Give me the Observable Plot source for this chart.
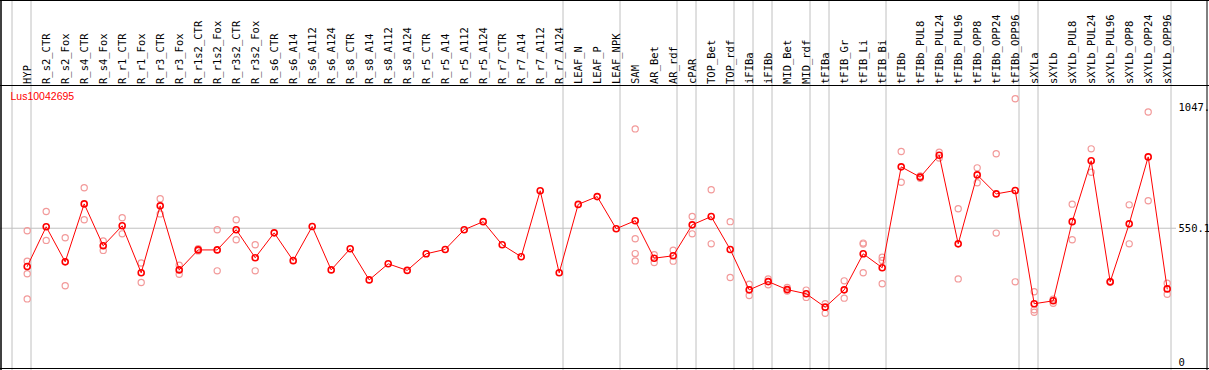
<!DOCTYPE html>
<html><head><meta charset="utf-8">
<script src="https://cdn.jsdelivr.net/npm/d3@7"></script>
<script src="https://cdn.jsdelivr.net/npm/@observablehq/plot@0.6"></script>
<style>html,body{margin:0;padding:0;background:#fff;overflow:hidden}</style>
</head><body><div id="chart"></div>
<script>
const geneId = "Lus10042695";
const samples = ["HYP","R_s2_CTR","R_s2_Fox","R_s4_CTR","R_s4_Fox","R_r1_CTR","R_r1_Fox","R_r3_CTR","R_r3_Fox","R_r1s2_CTR","R_r1s2_Fox","R_r3s2_CTR","R_r3s2_Fox","R_s6_CTR","R_s6_A14","R_s6_A112","R_s6_A124","R_s8_CTR","R_s8_A14","R_s8_A112","R_s8_A124","R_r5_CTR","R_r5_A14","R_r5_A112","R_r5_A124","R_r7_CTR","R_r7_A14","R_r7_A112","R_r7_A124","LEAF_N","LEAF_P","LEAF_NPK","SAM","AR_Bet","AR_rdf","cPAR","TOP_Bet","TOP_rdf","iFIBa","iFIBb","MID_Bet","MID_rdf","tFIBa","tFIB_Gr","tFIB_Li","tFIB_Bi","tFIBb","tFIBb_PUL8","tFIBb_PUL24","tFIBb_PUL96","tFIBb_OPP8","tFIBb_OPP24","tFIBb_OPP96","sXYLa","sXYLb","sXYLb_PUL8","sXYLb_PUL24","sXYLb_PUL96","sXYLb_OPP8","sXYLb_OPP24","sXYLb_OPP96"];
const means = [393,556,412,650,478,560,367,642,379,461,461,544,429,531,417,557,379,466,338,404,377,445,463,544,577,482,433,704,367,648,680,548,581,427,437,564,598,463,297,331,298,281,226,297,445,388,802,760,850,486,769,691,705,240,252,577,827,330,568,843,301];
const replicates = [
  [540,415,363,260],[619,500],[511,314],[716,585],[498,459],[593,527],[407,327],[671,609],[398,361],[466,457],
  [544,375],[585,503],[482,375],[],[],[],[],[],[],[],
  [],[],[],[],[],[],[],[],[],[],
  [],[],[958,507,446,416],[441,409],[460,415],[598,527],[708,486],[577,348],[320,274],[342,318],
  [307,292],[296,266],[240,201],[334,263],[489,485,367],[431,418,322],[865,739],[765,755],[862,838],[630,342],
  [798,737],[856,530],[1082,330],[289,215,205],[259,242],[649,503],[876,780],[332,328],[646,486],[1027,663],
  [324,279]
];
const groupEdges = [0,1,29,32,35,36,38,39,40,42,43,46,53,54,61];
const yTicks = [0, 550.1, 1047];
const yTickLabels = ["0", "550.1", "1047."];

const meanData = samples.map((s, i) => ({i, sample: s, value: means[i]}));
const repData = samples.flatMap((s, i) => replicates[i].map(v => ({i, value: v})));

const chart = Plot.plot({
  width: 1209, height: 370, margin: 0,
  x: {type: "linear", domain: [0, 61], range: [11.5, 1170.5], axis: null},
  y: {type: "linear", domain: [0, 1047], range: [361.7, 106.7], axis: null},
  style: {background: "#fff", fontFamily: "'DejaVu Sans Mono', monospace", fontSize: "10.5px", color: "#000"},
  marks: [
    Plot.ruleX(groupEdges, {x: d => d, stroke: "#c0c0c0", strokeWidth: 1}),
    Plot.ruleY([yTicks[1]], {stroke: "#c0c0c0", strokeWidth: 1, insetRight: 33}),
    Plot.text(samples, {x: (d, i) => i + 0.5, text: d => d, frameAnchor: "top", dy: 83.5, dx: 2.5,
      rotate: -90, textAnchor: "start", fill: "#000"}),
    Plot.text(yTickLabels, {x: () => 61, y: (d, i) => yTicks[i], text: d => d, dx: 7.5, textAnchor: "start", fill: "#000"}),
    Plot.text([geneId], {frameAnchor: "top-left", dx: 10, dy: 99.5, textAnchor: "start", lineAnchor: "bottom",
      fill: "#ff0000", fontFamily: "'Liberation Sans', Arial, sans-serif", fontSize: 10.5}),
    Plot.dot(repData, {x: d => d.i + 0.5, y: "value", dx: 5.7, r: 3.1, stroke: "#f29a9a", strokeWidth: 1.2, fill: "none"}),
    Plot.line(meanData, {x: d => d.i + 0.5, y: "value", dx: 5.7, stroke: "#ff0000", strokeWidth: 1}),
    Plot.dot(meanData, {x: d => d.i + 0.5, y: "value", dx: 5.7, r: 3, stroke: "#ff0000", strokeWidth: 1.6, fill: "none"})
  ]
});
document.getElementById("chart").appendChild(chart);
const svg = d3.select(chart);
svg.append("line").attr("x1", 0).attr("x2", 1209).attr("y1", 85.5).attr("y2", 85.5).attr("stroke", "#000");
svg.append("line").attr("x1", 0).attr("x2", 1209).attr("y1", 0.5).attr("y2", 0.5).attr("stroke", "#000");
svg.append("line").attr("x1", 0).attr("x2", 1209).attr("y1", 368.5).attr("y2", 368.5).attr("stroke", "#000");
svg.append("line").attr("x1", 1).attr("x2", 1).attr("y1", 0).attr("y2", 370).attr("stroke", "#000").attr("stroke-width", 1.5);
svg.append("line").attr("x1", 1207).attr("x2", 1207).attr("y1", 0).attr("y2", 370).attr("stroke", "#000");
</script>
</body></html>
